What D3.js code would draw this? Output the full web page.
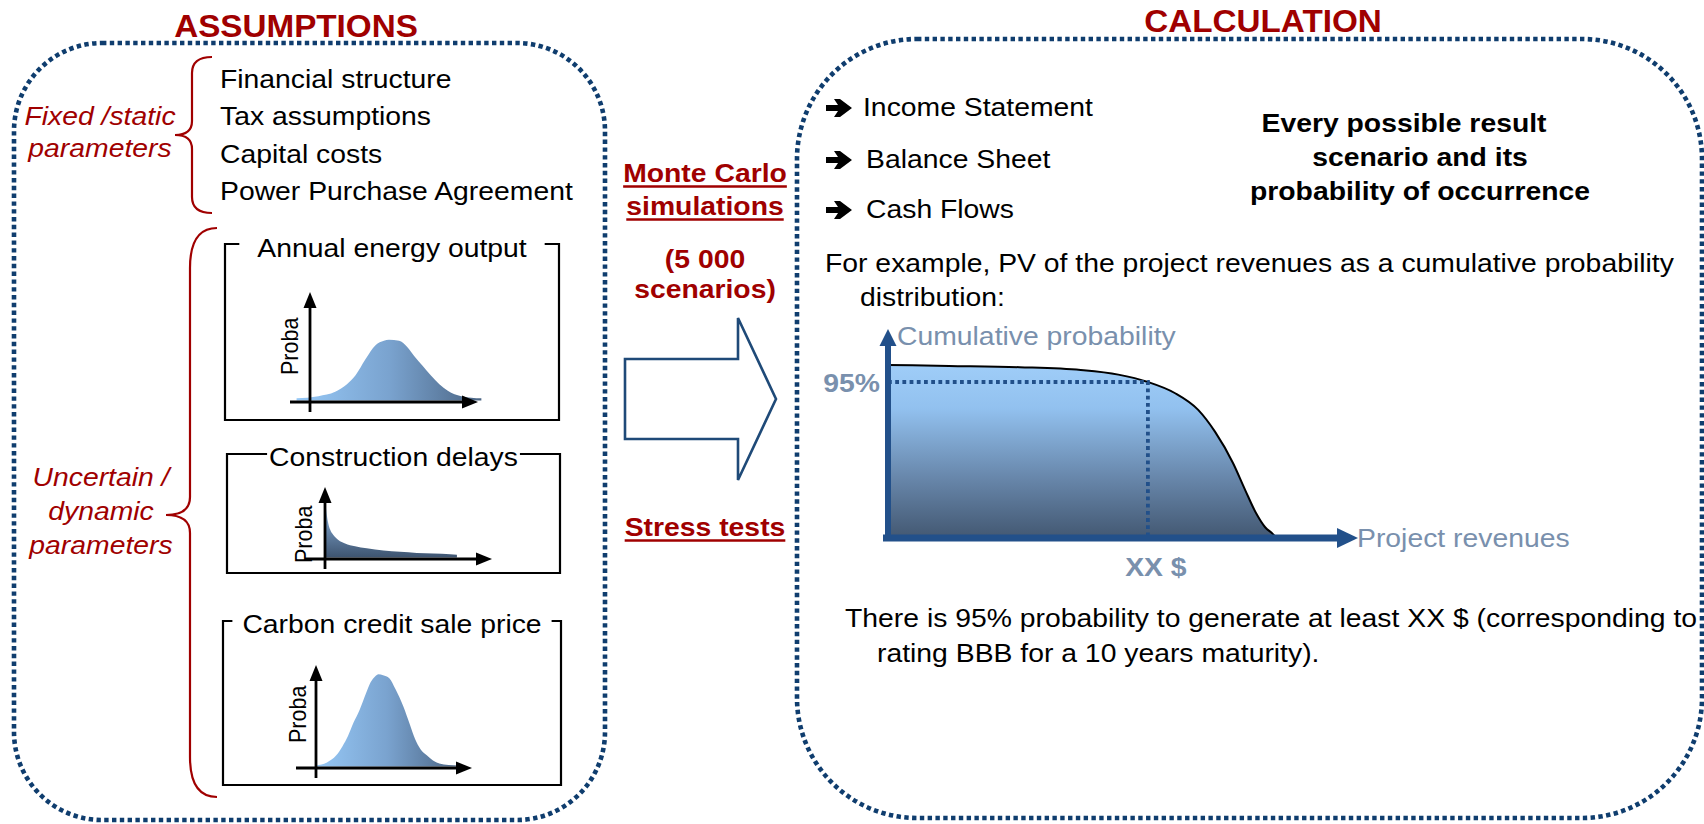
<!DOCTYPE html>
<html>
<head>
<meta charset="utf-8">
<script src="https://cdn.jsdelivr.net/npm/d3@7"></script>
<style>
  body { margin: 0; background: #fff; }
  svg { display: block; font-family: "Liberation Sans", Arial, sans-serif; }
</style>
</head>
<body>
<div id="chart"></div>
<script>
// ---- texts ----
var fixedParams = ["Financial structure", "Tax assumptions", "Capital costs", "Power Purchase Agreement"];
var fixedLabel = ["Fixed /static", "parameters"];
var uncertainLabel = ["Uncertain /", "dynamic", "parameters"];
var simLines = ["Monte Carlo", "simulations"];
var scenarioLines = ["(5 000", "scenarios)"];
var statements = ["Income Statement", "Balance Sheet", "Cash Flows"];
var resultLines = ["Every possible result", "scenario and its", "probability of occurrence"];
var exampleLines = ["For example, PV of the project revenues as a cumulative probability", "distribution:"];
var conclusionLines = ["There is 95% probability to generate at least XX $ (corresponding to", "rating BBB for a 10 years maturity)."];

// ---- distributions: [position in % of x axis, probability as share of y axis] ----
var energyOutput = [[-8,0.02],[5,0.04],[15,0.08],[22,0.15],[27,0.23],[33,0.38],[39,0.51],[44,0.55],[47,0.56],[53,0.55],[58,0.49],[62,0.41],[67,0.32],[72,0.23],[77,0.15],[82,0.09],[90,0.04],[102,0.02]];
var constructionDelays = [[0,0.86],[1,0.62],[2,0.48],[3,0.40],[5,0.32],[8,0.25],[12,0.2],[18,0.16],[25,0.13],[35,0.1],[45,0.08],[55,0.065],[65,0.055],[75,0.045],[79,0.04]];
var carbonPrice = [[0,0.01],[7,0.04],[13,0.11],[17,0.2],[20.5,0.30],[24,0.43],[28,0.56],[32,0.72],[35,0.83],[38,0.89],[40,0.91],[43,0.9],[47,0.87],[51,0.76],[56,0.59],[60,0.42],[63.5,0.27],[67,0.17],[71,0.11],[75,0.06],[79,0.03],[85,0.015],[91,0.01]];

// ---- cumulative curve: [revenues in % of axis, cumulative probability %] ----
var cumulative = [[0,105.4],[13,104.8],[28,104],[41,102.3],[49,99.5],[55.3,95],[61,88.3],[66,78],[69.6,64.6],[73.4,45.7],[76,29.2],[78.3,15.2],[80.2,6.7],[82.1,1.8],[82.6,0]];
var markerLevel = 95, markerX = 55.3;

var RED = "#a00000", NAVY = "#0f3d6e", AXIS = "#22508a", SLATE = "#7990ad";
var SX = 1.09;

var svg = d3.select("#chart").append("svg")
  .attr("width", 1704)
  .attr("height", 824);

var defs = svg.append("defs");
function grad(id, stops, vertical) {
  var g = defs.append("linearGradient").attr("id", id)
    .attr("x1", 0).attr("y1", 0).attr("x2", vertical ? 0 : 1).attr("y2", vertical ? 1 : 0);
  stops.forEach(function(s) {
    g.append("stop").attr("offset", s[0]).attr("stop-color", s[1]);
  });
}
grad("bellGrad", [[0, "#96c8f6"], [0.5, "#7aa3cf"], [1, "#4b6584"]], false);
grad("spikeGrad", [[0, "#b4dbff"], [0.4, "#7598bf"], [1, "#3e5470"]], true);
grad("cumGrad", [[0, "#9fcdf8"], [0.25, "#92c1ef"], [0.65, "#6887ab"], [1, "#435872"]], true);

function label(x, y, str, o) {
  o = o || {};
  return svg.append("text")
    .attr("transform", "translate(" + x + "," + y + ") scale(" + SX + ",1)" + (o.rotate ? " rotate(" + o.rotate + ")" : ""))
    .attr("text-anchor", o.anchor || "start")
    .attr("font-size", o.size || 26)
    .attr("font-weight", o.bold ? "bold" : null)
    .attr("font-style", o.italic ? "italic" : null)
    .attr("fill", o.color || "#000")
    .text(str);
}

function roundBox(x0, y0, x1, y1, r) {
  svg.append("rect")
    .attr("x", x0).attr("y", y0)
    .attr("width", x1 - x0).attr("height", y1 - y0)
    .attr("rx", r).attr("ry", r)
    .attr("fill", "none")
    .attr("stroke", NAVY)
    .attr("stroke-width", 4.6)
    .attr("stroke-dasharray", "4.4,3.4");
}

function brace(xEnd, xV, xTip, yTop, yTip, yBot, r, r2) {
  var p = d3.path();
  p.moveTo(xEnd, yTop);
  p.quadraticCurveTo(xV, yTop, xV, yTop + r);
  p.lineTo(xV, yTip - r2);
  p.quadraticCurveTo(xV, yTip, xTip, yTip);
  p.quadraticCurveTo(xV, yTip, xV, yTip + r2);
  p.lineTo(xV, yBot - r);
  p.quadraticCurveTo(xV, yBot, xEnd, yBot);
  svg.append("path").attr("d", p.toString())
    .attr("fill", "none").attr("stroke", RED).attr("stroke-width", 2.2);
}

// ---- panel frames ----
label(296, 37, "ASSUMPTIONS", {anchor: "middle", bold: true, size: 30.5, color: RED});
label(1263, 32, "CALCULATION", {anchor: "middle", bold: true, size: 30.5, color: RED});
roundBox(14, 43, 605, 820, 88);
roundBox(797, 39, 1702, 818, 120);

// ---- fixed parameters ----
brace(212, 192, 175, 57, 135, 213, 16, 14);
fixedLabel.forEach(function(t, i) {
  label(100, 125 + i * 32, t, {anchor: "middle", italic: true, color: RED});
});
fixedParams.forEach(function(t, i) {
  label(220, 88 + i * 37.3, t);
});

// ---- uncertain parameters ----
brace(217, 190, 166, 228, 515, 797, 40, 18);
uncertainLabel.forEach(function(t, i) {
  label(101, 486 + i * 34, t, {anchor: "middle", italic: true, color: RED});
});

var panels = [
  {title: "Annual energy output", data: energyOutput, fill: "url(#bellGrad)",
   box: [225, 244, 559, 420], pad: 18, base: 257, ax: [310, 478, 402, 292], proba: [298, 375]},
  {title: "Construction delays", data: constructionDelays, fill: "url(#spikeGrad)",
   box: [227, 454, 560, 573], pad: 2, base: 466, ax: [325, 492, 559, 487], proba: [312, 563]},
  {title: "Carbon credit sale price", data: carbonPrice, fill: "url(#bellGrad)",
   box: [223, 621, 561, 785], pad: 10, base: 633, ax: [316, 472, 768, 665], proba: [306, 743]}
];

panels.forEach(function(pn) {
  var b = pn.box, cx = (b[0] + b[2]) / 2;
  var t = label(cx, pn.base, pn.title, {anchor: "middle"});
  var w = t.node().getComputedTextLength() * SX;
  var frame = d3.path();
  frame.moveTo(cx - w / 2 - pn.pad, b[1]);
  frame.lineTo(b[0], b[1]);
  frame.lineTo(b[0], b[3]);
  frame.lineTo(b[2], b[3]);
  frame.lineTo(b[2], b[1]);
  frame.lineTo(cx + w / 2 + pn.pad, b[1]);
  svg.append("path").attr("d", frame.toString())
    .attr("fill", "none").attr("stroke", "#000").attr("stroke-width", 2.2);

  var a = pn.ax;
  var x = d3.scaleLinear().domain([0, 100]).range([a[0], a[1]]);
  var y = d3.scaleLinear().domain([0, 1]).range([a[2] - 1.5, a[3]]);
  var area = d3.area()
    .x(function(d) { return x(d[0]); })
    .y0(y(0))
    .y1(function(d) { return y(d[1]); })
    .curve(d3.curveMonotoneX);
  svg.append("path").datum(pn.data)
    .attr("d", area)
    .attr("fill", pn.fill);

  svg.append("line")
    .attr("x1", a[0]).attr("y1", a[2] + 10).attr("x2", a[0]).attr("y2", a[3] + 12)
    .attr("stroke", "#000").attr("stroke-width", 2.8);
  svg.append("line")
    .attr("x1", a[0] - 20).attr("y1", a[2]).attr("x2", a[1] - 12).attr("y2", a[2])
    .attr("stroke", "#000").attr("stroke-width", 2.8);
  svg.append("path")
    .attr("d", "M" + (a[0] - 6.5) + "," + (a[3] + 16) + "L" + (a[0] + 6.5) + "," + (a[3] + 16) + "L" + a[0] + "," + a[3] + "Z")
    .attr("fill", "#000");
  svg.append("path")
    .attr("d", "M" + (a[1] - 16) + "," + (a[2] - 6.5) + "L" + (a[1] - 16) + "," + (a[2] + 6.5) + "L" + a[1] + "," + a[2] + "Z")
    .attr("fill", "#000");

  label(pn.proba[0], pn.proba[1], "Proba", {size: 21.5, rotate: -90});
});

// ---- middle: simulations ----
function underlined(x, y, str) {
  var t = label(x, y, str, {anchor: "middle", bold: true, color: RED});
  var w = t.node().getComputedTextLength() * SX;
  svg.append("line")
    .attr("x1", x - w / 2).attr("x2", x + w / 2)
    .attr("y1", y + 4.5).attr("y2", y + 4.5)
    .attr("stroke", RED).attr("stroke-width", 2.6);
}
simLines.forEach(function(t, i) { underlined(705, 182 + i * 33, t); });
scenarioLines.forEach(function(t, i) {
  label(705, 268 + i * 30, t, {anchor: "middle", bold: true, color: RED});
});
underlined(705, 536, "Stress tests");

svg.append("path")
  .attr("d", "M625,359L738,359L738,318L776,399L738,480L738,439L625,439Z")
  .attr("fill", "#fff")
  .attr("stroke", "#1f4a78")
  .attr("stroke-width", 2.6)
  .attr("stroke-linejoin", "miter");

// ---- calculation side ----
statements.forEach(function(t, i) {
  var yb = [116, 168, 218][i];
  var yc = yb - 8;
  svg.append("path")
    .attr("d", "M826," + (yc - 3) + "L838," + (yc - 3) + "L834," + (yc - 9) + "L840," + (yc - 9) +
      "L852," + yc + "L840," + (yc + 9) + "L834," + (yc + 9) + "L838," + (yc + 3) + "L826," + (yc + 3) + "Z")
    .attr("fill", "#000");
  label(i === 0 ? 863 : 866, yb, t);
});

resultLines.forEach(function(t, i) {
  label([1404, 1420, 1420][i], [132, 166, 200][i], t, {anchor: "middle", bold: true});
});

label(825, 272, exampleLines[0]);
label(860, 306, exampleLines[1]);

// ---- cumulative probability chart ----
var xMain = d3.scaleLinear().domain([0, 100]).range([888, 1358]);
var yMain = d3.scaleLinear().domain([0, markerLevel]).range([538, 382]);

var cumArea = d3.area()
  .x(function(d) { return xMain(d[0]); })
  .y0(yMain(0))
  .y1(function(d) { return yMain(d[1]); })
  .curve(d3.curveMonotoneX);
var cumLine = d3.line()
  .x(function(d) { return xMain(d[0]); })
  .y(function(d) { return yMain(d[1]); })
  .curve(d3.curveMonotoneX);

svg.append("path").datum(cumulative).attr("d", cumArea).attr("fill", "url(#cumGrad)");
svg.append("path").datum(cumulative).attr("d", cumLine)
  .attr("fill", "none").attr("stroke", "#000").attr("stroke-width", 2);

svg.append("path")
  .attr("d", "M" + xMain(0) + "," + yMain(markerLevel) + "L" + xMain(markerX) + "," + yMain(markerLevel) +
    "L" + xMain(markerX) + "," + yMain(0))
  .attr("fill", "none")
  .attr("stroke", AXIS)
  .attr("stroke-width", 3.8)
  .attr("stroke-dasharray", "3.8,3.4");

// axes
svg.append("line")
  .attr("x1", xMain(0)).attr("y1", yMain(0) + 3).attr("x2", xMain(0)).attr("y2", 344)
  .attr("stroke", AXIS).attr("stroke-width", 6);
svg.append("path")
  .attr("d", "M" + (xMain(0) - 8.5) + ",346L" + (xMain(0) + 8.5) + ",346L" + xMain(0) + ",329Z")
  .attr("fill", AXIS);
svg.append("line")
  .attr("x1", xMain(0) - 5).attr("y1", yMain(0)).attr("x2", xMain(100) - 18).attr("y2", yMain(0))
  .attr("stroke", AXIS).attr("stroke-width", 7);
svg.append("path")
  .attr("d", "M" + (xMain(100) - 21) + "," + (yMain(0) - 10) + "L" + (xMain(100) - 21) + "," + (yMain(0) + 10) +
    "L" + xMain(100) + "," + yMain(0) + "Z")
  .attr("fill", AXIS);

label(897, 345, "Cumulative probability", {color: SLATE});
label(880, 392, markerLevel + "%", {anchor: "end", bold: true, color: SLATE});
label(xMain(markerX) + 8, 576, "XX $", {anchor: "middle", bold: true, color: SLATE});
label(1357, 547, "Project revenues", {color: SLATE});

label(845, 627, conclusionLines[0]);
label(877, 662, conclusionLines[1]);
</script>
</body>
</html>
